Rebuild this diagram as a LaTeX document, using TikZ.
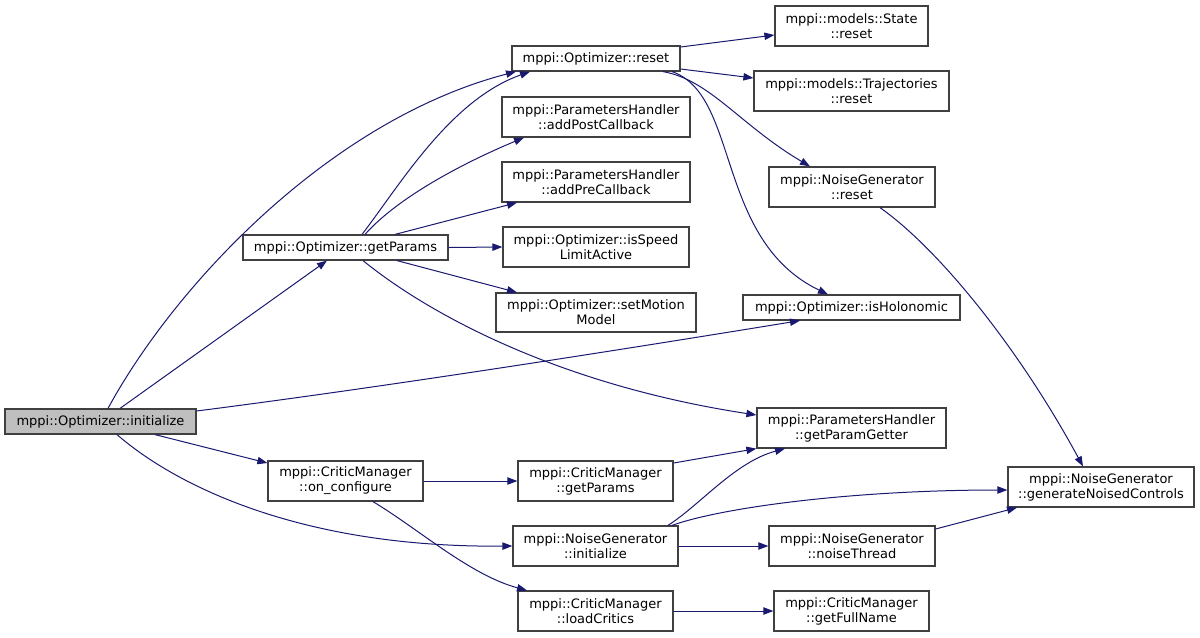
\documentclass[tikz,border=0pt]{standalone}
\usepackage{fontspec}
\setmainfont{DejaVu Sans}
\usetikzlibrary{arrows.meta}
\definecolor{edgecol}{HTML}{191970}
\definecolor{bordcol}{HTML}{404040}
\definecolor{rootfill}{HTML}{BFBFBF}
\tikzset{
  fn/.style={draw=bordcol, line width=0.9pt, rectangle, inner sep=0pt, align=center,
    font=\fontsize{9.75pt}{11.2pt}\selectfont},
  call/.style={draw=edgecol, line width=0.75pt, -{Triangle[length=7.5pt,width=5.5pt]}},
}
\newcommand\bx[7][]{\node[fn,#1, minimum width={(#5-#3)*0.75pt}, minimum height={(#6-#4)*0.75pt}] (#2) at ({(#3+#5)/2},{(#4+#6)/2}) {#7};}
\begin{document}
\begin{tikzpicture}[x=0.75pt, y=-0.75pt]
\useasboundingbox (0,0) rectangle (1200,637);
\bx[fill=rootfill]{init}{5}{409}{196}{434}{mppi::Optimizer::initialize}
\bx{reset}{512}{46}{680}{71}{mppi::Optimizer::reset}
\bx{stateReset}{775}{6}{928}{46}{mppi::models::State\\::reset}
\bx{trajReset}{754}{71}{949}{111}{mppi::models::Trajectories\\::reset}
\bx{addPost}{502}{97}{690}{137}{mppi::ParametersHandler\\::addPostCallback}
\bx{addPre}{502}{162}{690}{202}{mppi::ParametersHandler\\::addPreCallback}
\bx{nReset}{769}{167}{935}{207}{mppi::NoiseGenerator\\::reset}
\bx{getParams}{243}{235}{448}{260}{mppi::Optimizer::getParams}
\bx{isSpeed}{503}{227}{689}{267}{mppi::Optimizer::isSpeed\\LimitActive}
\bx{setMotion}{496}{293}{696}{332}{mppi::Optimizer::setMotion\\Model}
\bx{isHolo}{743}{295}{960}{320}{mppi::Optimizer::isHolonomic}
\bx{getParamGetter}{757}{408}{946}{448}{mppi::ParametersHandler\\::getParamGetter}
\bx{genNoised}{1008}{467}{1194}{507}{mppi::NoiseGenerator\\::generateNoisedControls}
\bx{cmOnConf}{268}{461}{423}{501}{mppi::CriticManager\\::on\_configure}
\bx{cmGetParams}{518}{461}{673}{501}{mppi::CriticManager\\::getParams}
\bx{nInit}{513}{526}{678}{566}{mppi::NoiseGenerator\\::initialize}
\bx{nThread}{769}{526}{935}{566}{mppi::NoiseGenerator\\::noiseThread}
\bx{loadCritics}{518}{591}{673}{631}{mppi::CriticManager\\::loadCritics}
\bx{getFullName}{774}{591}{929}{631}{mppi::CriticManager\\::getFullName}
% edges from initialize
\draw[call] (init.north -| 108,0) .. controls (175,285) and (330,120) .. (reset.south -| 516,0);
\draw[call] (init.north -| 120,0) -- (getParams.south -| 327,0);
\draw[call] (init.east |- 0,411) .. controls (400,385) and (650,345) .. (isHolo.south -| 800,0);
\draw[call] (init.south -| 155,0) -- (cmOnConf.west |- 0,463);
\draw[call] (init.south -| 117,0) .. controls (175,485) and (300,548) .. (nInit.west);
% edges from getParams
\draw[call] (getParams.north -| 362,0) .. controls (400,185) and (450,100) .. (reset.south -| 530,0);
\draw[call] (getParams.north -| 365,0) .. controls (400,195) and (470,160) .. (addPost.south -| 524,0);
\draw[call] (getParams.north -| 395,0) -- (addPre.south -| 517,0);
\draw[call] (getParams.east) -- (isSpeed.west);
\draw[call] (getParams.south -| 397,0) -- (setMotion.north -| 517,0);
\draw[call] (getParams.south -| 363,0) .. controls (430,315) and (560,385) .. (getParamGetter.west |- 0,415);
% edges from reset
\draw[call] (reset.east |- 0,47) -- (stateReset.west |- 0,35);
\draw[call] (reset.east |- 0,69) -- (trajReset.west |- 0,78);
\draw[call] (reset.south -| 663,0) .. controls (710,80) and (740,125) .. (nReset.north -| 810,0);
\draw[call] (reset.south -| 672,0) .. controls (740,95) and (715,240) .. (isHolo.north -| 828,0);
\draw[call] (nReset.south -| 880,0) .. controls (940,250) and (1020,350) .. (genNoised.north -| 1083,0);
% critic manager
\draw[call] (cmOnConf.east) -- (cmGetParams.west);
\draw[call] (cmOnConf.south -| 373,0) .. controls (420,530) and (470,575) .. (loadCritics.north -| 527,0);
\draw[call] (cmGetParams.east |- 0,463) -- (getParamGetter.south west);
\draw[call] (loadCritics.east) -- (getFullName.west);
% noise generator
\draw[call] (nInit.north -| 668,0) .. controls (700,505) and (735,462) .. (getParamGetter.south -| 785,0);
\draw[call] (nInit.north -| 672,0) .. controls (720,508) and (850,490) .. (genNoised.west |- 0,490);
\draw[call] (nInit.east) -- (nThread.west);
\draw[call] (nThread.east |- 0,529) -- (genNoised.south -| 1017,0);
\end{tikzpicture}
\end{document}
